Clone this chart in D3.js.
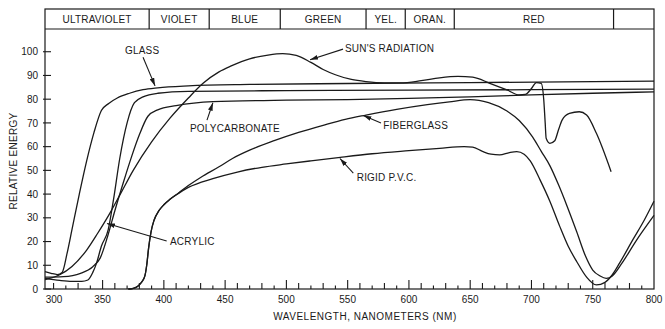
<!DOCTYPE html>
<html>
<head>
<meta charset="utf-8">
<script src="https://cdn.jsdelivr.net/npm/d3@7"></script>
<style>
  body { margin: 0; background: #fff; }
  text { font-family: "Liberation Sans", Arial, sans-serif; fill: #1a1a1a; }
</style>
</head>
<body>
<div id="chart"></div>
<script>
// wavelength (nm), relative energy
const glass = [[303, 7.3], [308, 6.6], [313, 6.1], [317, 7], [321, 15], [325, 25], [331, 40], [337, 54], [343, 66],
  [349, 75.2], [355, 78.2], [362, 80.5], [372, 82.5], [383, 84], [395, 84.8], [420, 85.6], [470, 86.2], [550, 86.6],
  [650, 87], [800, 87.6]];
const acrylic = [[303, 4.5], [315, 3.6], [325, 3.2], [333, 3.2], [338, 3.8], [342, 7], [345, 10.8], [349, 18],
  [354.6, 25], [359, 38], [364, 55], [370, 70], [376, 78.5], [383, 81], [395, 82.5], [420, 83.3], [500, 83.6],
  [600, 83.8], [700, 84], [800, 84.2]];
const polycarbonate = [[303, 5], [318, 5.2], [332, 6.6], [342, 9.4], [348, 13], [354, 22], [360, 33], [367, 45],
  [373.6, 55.7], [380, 65], [387, 72.8], [395, 75.5], [410, 77.3], [440, 79], [500, 79.6], [550, 79.8], [600, 80.3],
  [650, 81], [700, 81.8], [750, 82.5], [800, 83.1]];
const sunsRadiation = [[303, 4], [315, 6], [325, 9.5], [337, 16.4], [346, 23.5], [356, 32], [365, 40.5], [375, 50],
  [390, 62], [405, 72], [420, 80.5], [432, 86.7], [445, 91.5], [455, 94], [470, 97], [485, 98.6], [497, 99.2],
  [508, 98.5], [520, 95.5], [530, 92.5], [540, 90.3], [553, 88.3], [565, 87.4], [580, 86.9], [593, 86.9],
  [610, 87.8], [625, 89], [640, 89.6], [652, 89.3], [666, 86.7], [680, 83.9], [690, 81.8], [695, 82], [700, 84.5],
  [704, 87], [708, 86.7], [710, 80], [711.2, 70], [712, 63.5], [715, 61.4], [719, 62.5], [722, 67], [725, 71.2],
  [731, 74], [739, 74.7], [745, 73.3], [753, 65.6], [765, 49.4]];
const fiberglass = [[371, 0], [375, 0.3], [379, 1.3], [382, 3], [384.5, 5.5], [386, 10], [387.5, 17], [389.5, 24],
  [392, 29], [396, 33], [400, 35.5], [405, 37.8], [412, 40.5], [420, 43.6], [430, 47], [445, 51.5], [456, 55],
  [470, 58.5], [490, 62.5], [510, 66], [530, 69], [548, 71.5], [565, 73.3], [590, 75.7], [615, 77.7], [633, 78.9],
  [650, 79.8], [665, 78.5], [680, 75], [690, 71], [701, 64], [708, 58], [715, 52], [722, 44], [729, 35], [737, 24],
  [744, 14], [750, 8], [756, 5.5], [761, 4.5], [766, 5.5], [774, 11], [785, 20], [800, 31]];
const rigidPvc = [[371, 0], [375, 0.3], [379, 1.3], [382, 3], [384.5, 5.5], [386, 10], [387.5, 17], [389.5, 24],
  [392, 29], [396, 33], [400, 35.5], [405, 37.8], [412, 40.3], [420, 42.8], [440, 46.5], [460, 49.3], [480, 51.3],
  [500, 52.7], [520, 54], [544, 55.5], [570, 57], [600, 58.3], [625, 59.3], [645, 60], [652, 59.8], [660, 58],
  [667, 56.8], [674, 56.5], [682, 57.5], [688, 57.9], [694, 56.8], [699, 54], [707, 46], [715, 37], [723, 26.5],
  [730, 18], [737, 11.5], [745, 5], [753, 1.7], [760, 2.8], [766, 6], [772, 11], [783, 21], [792, 29], [800, 37]];

const series = [glass, acrylic, polycarbonate, sunsRadiation, fiberglass, rigidPvc];

const bandNames = ["ULTRAVIOLET", "VIOLET", "BLUE", "GREEN", "YEL.", "ORAN.", "RED", ""];
const bandEdges = [303, 388, 437, 495, 565, 597, 637, 767, 800];
const yTickValues = d3.range(0, 101, 10);
const xTickLabels = [300, 350, 400, 450, 500, 550, 600, 650, 700, 750, 800];

// label text, label start point, arrow start, arrow tip (in data units)
const callouts = [
  { text: "GLASS", at: [368.3, 100.7], from: [383, 97.7], to: [392.8, 85.6] },
  { text: "SUN'S RADIATION", at: [547.8, 101.4], from: [546.2, 101.1], to: [519.3, 96.6] },
  { text: "POLYCARBONATE", at: [421.3, 67.8], from: [435.2, 71.2], to: [440, 78.5] },
  { text: "FIBERGLASS", at: [579.1, 68.8], from: [577.2, 70], to: [562.8, 73.1] },
  { text: "RIGID P.V.C.", at: [557.4, 47.1], from: [554.6, 48.8], to: [543.7, 55] },
  { text: "ACRYLIC", at: [405, 19.9], from: [402.3, 20.2], to: [353.6, 27.6] },
];

const W = 665, H = 329;
const plot = { left: 45, right: 654, top: 29, bottom: 289, bandTop: 9 };

const x = d3.scaleLinear().domain([303, 800]).range([plot.left, plot.right]);
const y = d3.scaleLinear().domain([0, 110]).range([plot.bottom, 28]);

const svg = d3.select("#chart").append("svg")
  .attr("width", W)
  .attr("height", H);

const ink = "#1a1a1a";

svg.append("defs").append("marker")
  .attr("id", "arrow")
  .attr("viewBox", "0 0 10 6")
  .attr("refX", 10)
  .attr("refY", 3)
  .attr("markerWidth", 8)
  .attr("markerHeight", 5)
  .attr("markerUnits", "userSpaceOnUse")
  .attr("orient", "auto")
  .append("path")
  .attr("d", "M0,0 L10,3 L0,6 Z")
  .attr("fill", ink);

// frame and colour band header
const frame = svg.append("g").attr("stroke", ink).attr("stroke-width", 1.2).attr("fill", "none");
frame.append("rect")
  .attr("x", plot.left)
  .attr("y", plot.bandTop)
  .attr("width", plot.right - plot.left)
  .attr("height", plot.bottom - plot.bandTop);
frame.append("line")
  .attr("x1", plot.left).attr("x2", plot.right)
  .attr("y1", plot.top).attr("y2", plot.top);
frame.selectAll("line.band")
  .data(bandEdges.slice(1, -1))
  .join("line")
  .attr("class", "band")
  .attr("x1", d => x(d)).attr("x2", d => x(d))
  .attr("y1", plot.bandTop).attr("y2", plot.top);

svg.append("g")
  .selectAll("text")
  .data(bandNames)
  .join("text")
  .attr("x", (d, i) => (x(bandEdges[i]) + x(bandEdges[i + 1])) / 2)
  .attr("y", (plot.bandTop + plot.top) / 2)
  .attr("dy", "0.36em")
  .attr("text-anchor", "middle")
  .attr("font-size", 10)
  .attr("letter-spacing", 0.2)
  .text(d => d);

// x ticks: every 10 nm, pointing into the plot
const ticks = svg.append("g").attr("stroke", ink).attr("stroke-width", 1.1);
const tickLen = d => {
  const r = (d - 300) % 50;
  return r === 0 ? 9 : (r === 10 || r === 30 ? 6 : 3.5);
};
ticks.selectAll("line.x")
  .data(d3.range(310, 800, 10))
  .join("line")
  .attr("class", "x")
  .attr("x1", d => x(d)).attr("x2", d => x(d))
  .attr("y1", plot.bottom).attr("y2", d => plot.bottom - tickLen(d));
ticks.selectAll("line.y")
  .data(yTickValues)
  .join("line")
  .attr("class", "y")
  .attr("x1", plot.left - 2).attr("x2", plot.left + 6)
  .attr("y1", d => y(d)).attr("y2", d => y(d));

svg.append("g")
  .selectAll("text")
  .data(xTickLabels)
  .join("text")
  .attr("x", d => Math.max(x(d), plot.left + 9))
  .attr("y", plot.bottom + 14)
  .attr("text-anchor", "middle")
  .attr("font-size", 10)
  .text(d => d);

svg.append("g")
  .selectAll("text")
  .data(yTickValues)
  .join("text")
  .attr("x", plot.left - 7)
  .attr("y", d => y(d))
  .attr("dy", "0.36em")
  .attr("text-anchor", "end")
  .attr("font-size", 10)
  .text(d => d);

svg.append("text")
  .attr("x", 365)
  .attr("y", 320)
  .attr("text-anchor", "middle")
  .attr("font-size", 10)
  .attr("letter-spacing", 0.5)
  .text("WAVELENGTH, NANOMETERS (NM)");

svg.append("text")
  .attr("transform", `translate(17, ${(plot.top + plot.bottom) / 2 + 2}) rotate(-90)`)
  .attr("text-anchor", "middle")
  .attr("font-size", 10)
  .attr("letter-spacing", 0.3)
  .text("RELATIVE ENERGY");

// curves
const line = d3.line()
  .x(d => x(d[0]))
  .y(d => y(d[1]))
  .curve(d3.curveMonotoneX);

svg.append("g")
  .selectAll("path")
  .data(series)
  .join("path")
  .attr("d", line)
  .attr("fill", "none")
  .attr("stroke", ink)
  .attr("stroke-width", 1.3);

// callouts
const notes = svg.append("g");
notes.selectAll("line")
  .data(callouts)
  .join("line")
  .attr("x1", d => x(d.from[0])).attr("y1", d => y(d.from[1]))
  .attr("x2", d => x(d.to[0])).attr("y2", d => y(d.to[1]))
  .attr("stroke", ink)
  .attr("stroke-width", 1.1)
  .attr("marker-end", "url(#arrow)");
notes.selectAll("text")
  .data(callouts)
  .join("text")
  .attr("x", d => x(d.at[0]))
  .attr("y", d => y(d.at[1]))
  .attr("dy", "0.36em")
  .attr("font-size", 10)
  .attr("letter-spacing", 0.2)
  .text(d => d.text);
</script>
</body>
</html>
